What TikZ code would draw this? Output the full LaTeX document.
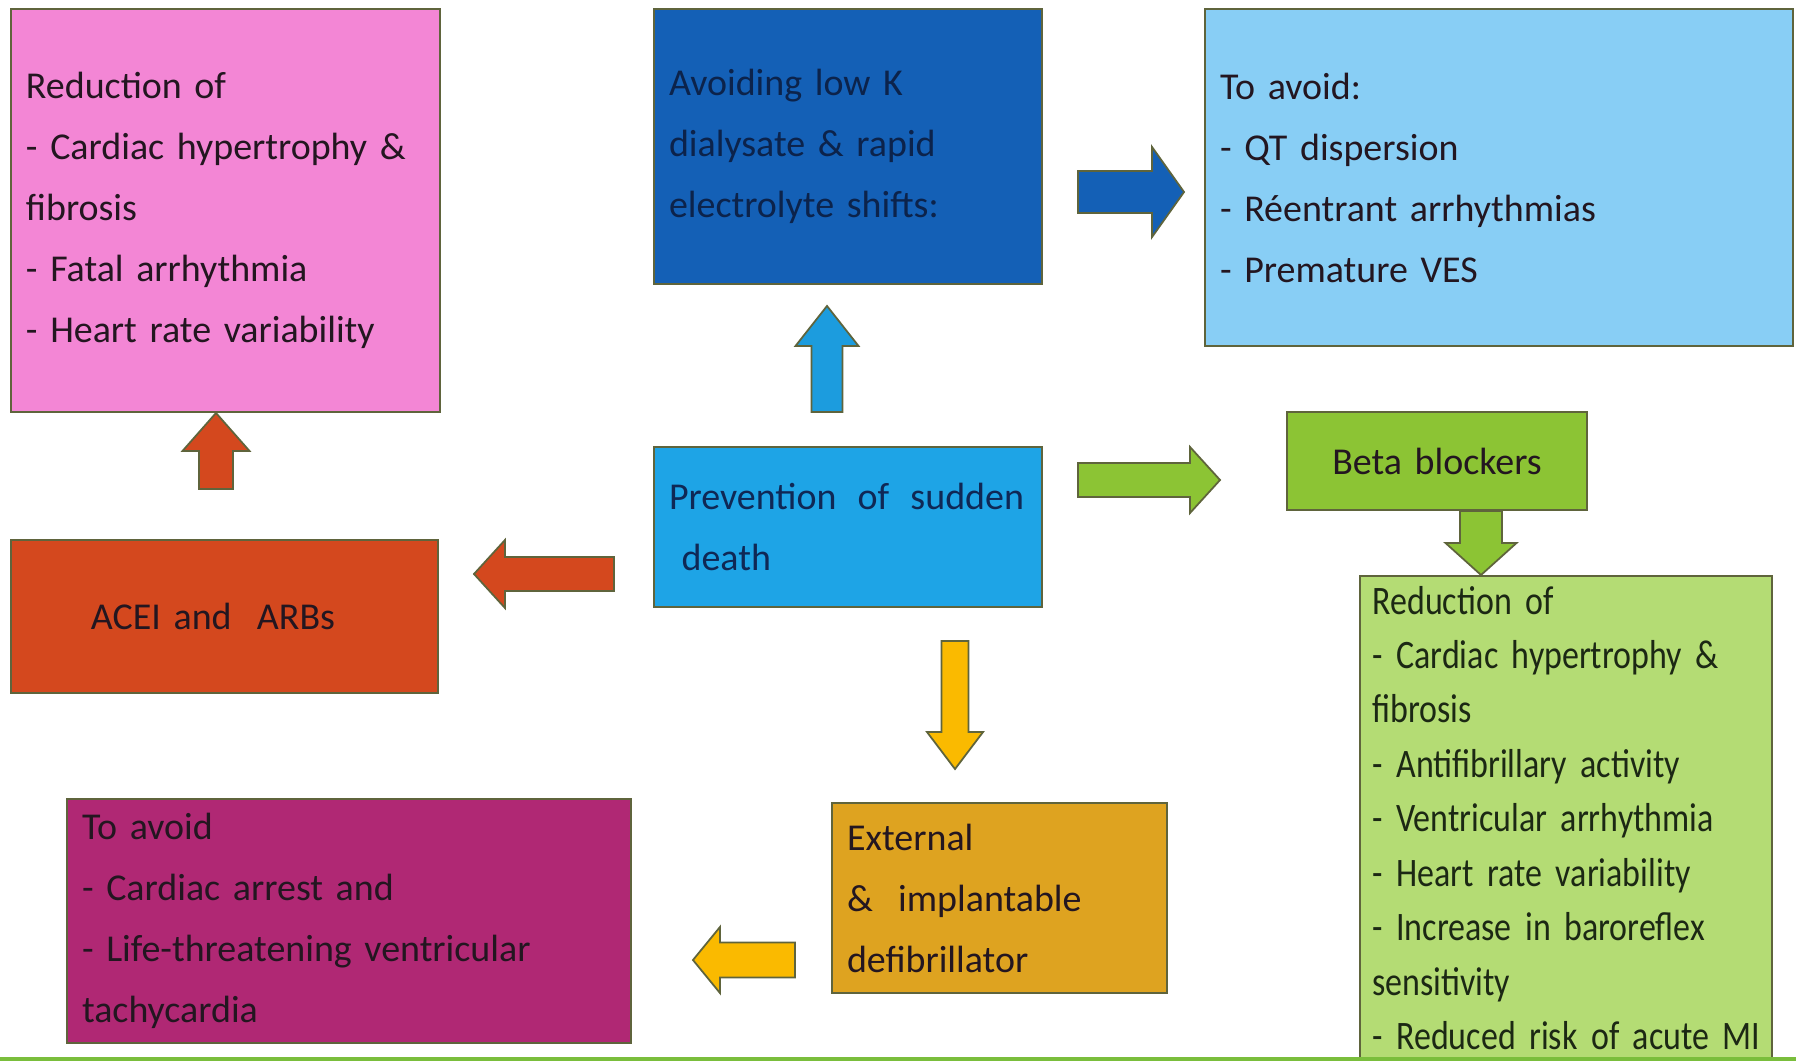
\documentclass[tikz,border=0pt]{standalone}
\usepackage{fontspec}
\setmainfont{Carlito}
\newfontfamily\listfont{Carlito}[FakeStretch=0.84, WordSpace=0.7]
\usetikzlibrary{calc, positioning}

\definecolor{reduxpink}{RGB}{243,134,213}
\definecolor{lowkblue}{RGB}{20,96,182}
\definecolor{avoidqtblue}{RGB}{136,206,245}
\definecolor{prevblue}{RGB}{30,164,230}
\definecolor{uparrowblue}{RGB}{28,156,222}
\definecolor{aceired}{RGB}{212,72,30}
\definecolor{betagreen}{RGB}{140,196,52}
\definecolor{listgreen}{RGB}{180,220,116}
\definecolor{defibgold}{RGB}{222,163,32}
\definecolor{arrowyellow}{RGB}{250,186,0}
\definecolor{avoidplum}{RGB}{176,40,116}
\definecolor{boxline}{RGB}{95,100,60}
\definecolor{bottomgreen}{RGB}{122,190,60}
\definecolor{textdark}{RGB}{35,22,32}
\definecolor{lowktext}{RGB}{12,35,75}
\definecolor{prevtext}{RGB}{15,40,85}
\definecolor{listtext}{RGB}{28,40,20}

\tikzset{
  shaft half/.store in=\shafthalf,
  head half/.store in=\headhalf,
  head len/.store in=\headlen,
  fatarrow/.style={draw=boxline, line width=1pt, line join=miter,
    to path={
      ($(\tikztotarget)!\headlen!(\tikztostart)$) coordinate (fa-m)
      ($(\tikztostart)!\shafthalf!90:(\tikztotarget)$)
      -- ($(fa-m)!\shafthalf!90:(\tikztotarget)$)
      -- ($(fa-m)!\headhalf!90:(\tikztotarget)$)
      -- (\tikztotarget)
      -- ($(fa-m)!\headhalf!-90:(\tikztotarget)$)
      -- ($(fa-m)!\shafthalf!-90:(\tikztotarget)$)
      -- ($(\tikztostart)!\shafthalf!-90:(\tikztotarget)$)
      -- cycle}},
  panel/.style={draw=boxline, line width=1.1pt, inner xsep=0.3cm, inner ysep=0.1cm,
    align=left, text=textdark, font=\fontsize{21.6pt}{34.7pt}\selectfont},
}

\begin{document}
\begin{tikzpicture}
  \useasboundingbox (0,0) rectangle (35.92,-21.22);
  \clip (0,0) rectangle (35.92,-21.22);
  \fill[white] (0,0) rectangle (35.92,-21.22);

  % Central node
  \node[panel, fill=prevblue, text=prevtext, text width=7.16cm, minimum height=3.2cm] (prev) at (16.96,-10.54) {\makebox[7.1cm][s]{Prevention\hspace{0pt plus 1fil} of\hspace{0pt plus 1fil} sudden}\\~death};

  % Upper row
  \node[panel, fill=lowkblue, text=lowktext, text width=7.16cm, minimum height=5.5cm, above of=prev, yshift=6.61cm] (lowk) {Avoiding low K\\dialysate \& rapid\\electrolyte shifts:};
  \node[panel, fill=avoidqtblue, text width=11.16cm, minimum height=6.74cm, right of=lowk, xshift=12.02cm, yshift=-0.62cm] (avoidqt) {To avoid:\\- QT dispersion\\- Réentrant arrhythmias\\- Premature VES};
  \node[panel, fill=reduxpink, text width=7.98cm, minimum height=8.06cm, left of=lowk, xshift=-11.45cm, yshift=-1.28cm] (redux) {Reduction of\\- Cardiac hypertrophy \&\\fibrosis\\- Fatal arrhythmia\\- Heart rate variability};

  % Middle row
  \node[panel, fill=aceired, text width=7.94cm, minimum height=3.06cm, left of=prev, xshift=-11.47cm, yshift=-1.79cm] (acei) {\hspace*{1.3cm}ACEI and~~ARBs};
  \node[panel, fill=betagreen, align=center, text width=5.4cm, minimum height=1.96cm, right of=prev, xshift=10.78cm, yshift=1.32cm] (beta) {Beta blockers};
  \node[panel, fill=listgreen, text=listtext, font=\listfont\fontsize{23pt}{31pt}\selectfont, inner xsep=0.25cm, text width=7.74cm, inner ysep=0.2cm, below of=beta, anchor=north, xshift=2.58cm, yshift=-1.28cm] (betalist) {Reduction of\\- Cardiac hypertrophy \&\\fibrosis\\- Antifibrillary activity\\- Ventricular arrhythmia\\- Heart rate variability\\- Increase in baroreflex\\sensitivity\\\mbox{- Reduced risk of acute MI}};

  % Lower row
  \node[panel, fill=defibgold, text width=6.1cm, minimum height=3.8cm, below of=prev, xshift=3.03cm, yshift=-6.42cm] (defib) {External\\\&~~implantable\\defibrillator};
  \node[panel, fill=avoidplum, text width=10.68cm, minimum height=4.88cm, left of=defib, xshift=-12.01cm, yshift=-0.46cm] (avoidca) {To avoid\\- Cardiac arrest and\\- Life-threatening ventricular\\tachycardia};

  % Arrows
  \draw[fatarrow, fill=lowkblue, shaft half=0.42cm, head half=0.9cm, head len=0.64cm]
    ([xshift=0.7cm, yshift=-0.91cm]lowk.east) to ([xshift=-0.4cm, yshift=-0.29cm]avoidqt.west);
  \draw[fatarrow, fill=uparrowblue, shaft half=0.31cm, head half=0.63cm, head len=0.8cm]
    ([xshift=-0.42cm, yshift=0.68cm]prev.north) to ([xshift=-0.42cm, yshift=-0.42cm]lowk.south);
  \draw[fatarrow, fill=aceired, shaft half=0.34cm, head half=0.67cm, head len=0.76cm]
    ([xshift=-0.17cm, yshift=1cm]acei.north) to ([xshift=-0.19cm]redux.south);
  \draw[fatarrow, fill=aceired, shaft half=0.34cm, head half=0.68cm, head len=0.62cm]
    ([xshift=-0.78cm, yshift=-0.94cm]prev.west) to ([xshift=0.7cm, yshift=0.85cm]acei.east);
  \draw[fatarrow, fill=betagreen, shaft half=0.34cm, head half=0.66cm, head len=0.6cm]
    ([xshift=0.7cm, yshift=0.94cm]prev.east) to ([xshift=-1.32cm, yshift=-0.38cm]beta.west);
  \draw[fatarrow, fill=betagreen, shaft half=0.42cm, head half=0.71cm, head len=0.64cm]
    ([xshift=0.88cm]beta.south) to ([xshift=-1.7cm]betalist.north);
  \draw[fatarrow, fill=arrowyellow, shaft half=0.27cm, head half=0.56cm, head len=0.74cm]
    ([xshift=2.14cm, yshift=-0.66cm]prev.south) to ([xshift=-0.89cm, yshift=0.66cm]defib.north);
  \draw[fatarrow, fill=arrowyellow, shaft half=0.35cm, head half=0.66cm, head len=0.54cm]
    ([xshift=-0.72cm, yshift=-1.24cm]defib.west) to ([xshift=1.22cm, yshift=-0.78cm]avoidca.east);

  % Bottom rule
  \fill[bottomgreen] (0,-21.13) rectangle (35.92,-21.22);
\end{tikzpicture}
\end{document}
